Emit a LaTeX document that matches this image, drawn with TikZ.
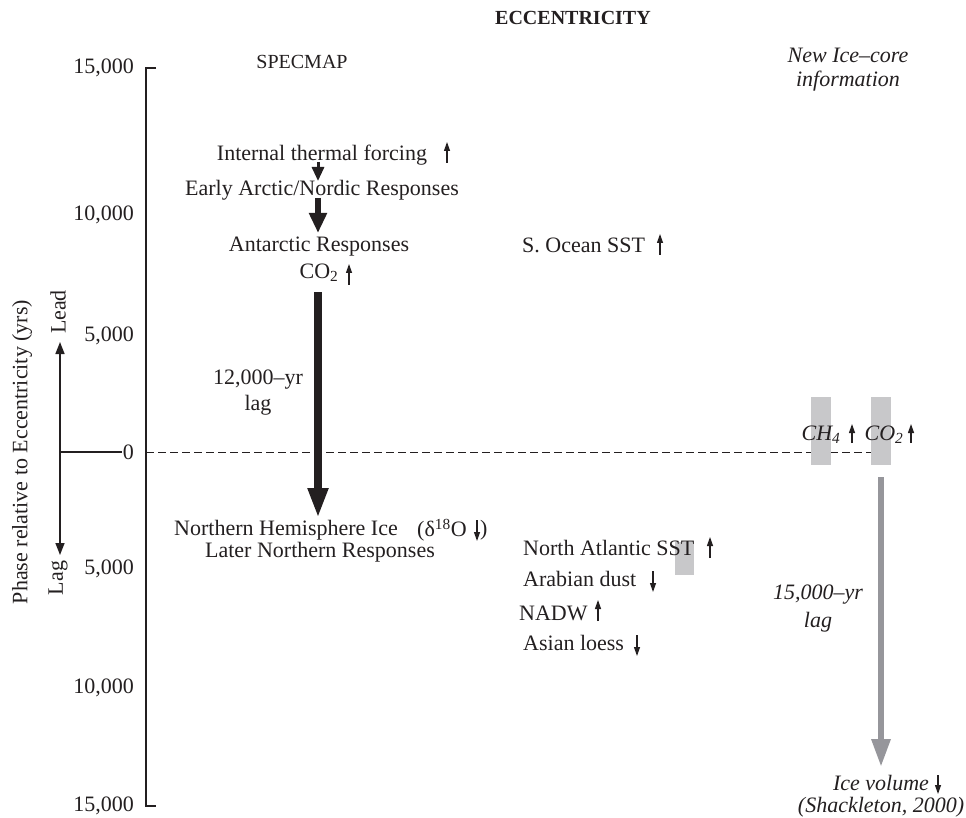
\documentclass[tikz,border=0pt]{standalone}
\usepackage{fontspec}
\setmainfont{Liberation Serif}
\usetikzlibrary{arrows.meta}
\definecolor{ink}{RGB}{35,31,32}
\definecolor{boxgray}{RGB}{200,200,202}
\definecolor{arrgray}{RGB}{150,150,155}
\begin{document}
\begin{tikzpicture}[x=1pt,y=-1pt,
  every node/.style={font=\fontsize{22}{26}\selectfont, inner sep=0pt, text=ink},
  ttl/.style={font=\fontsize{20}{24}\selectfont},
  tlab/.style={anchor=east},
  upar/.style={draw=ink, line width=1.2pt, -{Triangle[width=6pt,length=9pt]}},
  bigarr/.style={draw=ink, line width=8pt, -{Triangle[width=19pt,length=30pt]}},
  midarr/.style={draw=ink, line width=6pt, -{Triangle[width=17pt,length=20pt]}},
  smlarr/.style={draw=ink, line width=3pt, -{Triangle[width=12pt,length=14pt]}},
  grayarr/.style={draw=arrgray, line width=6pt, -{Triangle[width=18pt,length=28pt]}},
  ]
\useasboundingbox (0,0) rectangle (966,818);

% titles
\node[ttl, font=\fontsize{20}{24}\selectfont\bfseries] (ecc) at (573,18) {ECCENTRICITY};
\node[ttl] (spec) at (302,62) {SPECMAP};
\node[font=\fontsize{22}{26}\selectfont\itshape] (nic1) at (848,55) {New Ice–core};
\node[font=\fontsize{22}{26}\selectfont\itshape] (nic2) at (848,81) {information};

% axis
\coordinate (axtop) at (146,68);
\coordinate (axbot) at (146,806);
\draw[ink, line width=1.2pt] ([xshift=10pt]axtop) -- (axtop) -- (axbot) -- ([xshift=10pt]axbot);
\node[tlab] (l15a) at (134,68) {15,000};
\node[tlab] (l10a) at (134,215) {10,000};
\node[tlab] (l5a) at (134,336) {5,000};
\node[tlab] (l0) at (134,452) {0};
\node[tlab] (l5b) at (134,569) {5,000};
\node[tlab] (l10b) at (134,688) {10,000};
\node[tlab] (l15b) at (134,806) {15,000};

% dashed zero line
\coordinate (d0) at (146,452);
\coordinate (d1) at (871,452);
\draw[ink, line width=0.8pt, dash pattern=on 8pt off 4pt] (d0) -- (d1);

% lead / lag
\node[rotate=90] (ylab) at (22,452) {Phase relative to Eccentricity (yrs)};
\coordinate (ll0) at (60,452);
\coordinate (ll1) at (122,452);
\coordinate (lead) at (60,342);
\coordinate (lag) at (60,555);
\draw[ink, line width=1.6pt, {Triangle[width=9pt,length=12pt]}-{Triangle[width=9pt,length=12pt]}] (lead) -- (lag);
\draw[ink, line width=1.4pt] (ll0) -- (ll1);
\node[rotate=90] (leadt) at (58,312) {Lead};
\node[rotate=90] (lagt) at (58,578) {Lag};

% SPECMAP column
\node (itf) at (322,155) {Internal thermal forcing};
\draw[upar] (447,163) -- (447,142);
\node (ear) at (322,190) {Early Arctic/Nordic Responses};
\coordinate (s1a) at (318,162);
\coordinate (s1b) at (318,181);
\draw[smlarr] (s1a) -- (s1b);
\coordinate (s2a) at (318,198);
\coordinate (s2b) at (318,233);
\draw[midarr] (s2a) -- (s2b);
\node (ant) at (319,247) {Antarctic Responses};
\node (co2a) at (319,273) {CO\textsubscript{2}};
\draw[upar] (349,285) -- (349,264);
\coordinate (b1a) at (318,292);
\coordinate (b1b) at (318,518);
\draw[bigarr] (b1a) -- (b1b);
\node (lag12a) at (258,380) {12,000–yr};
\node (lag12b) at (258,405) {lag};
\node (nhi) at (286,530) {Northern Hemisphere Ice};
\node[anchor=west] (d18) at (417,530) {(δ\textsuperscript{18}O};
\draw[upar, -{Triangle[width=6pt,length=9pt]}] (477,520) -- (477,541);
\node[anchor=west] (d18c) at (480,530) {)};
\node (lnr) at (320,552) {Later Northern Responses};

% middle column
\node[anchor=west] (sos) at (522,245) {S. Ocean SST};
\draw[upar] (660,255) -- (660,234);
\fill[boxgray] (675,542) rectangle (694,575);
\node[anchor=west] (nas) at (523,548) {North Atlantic SST};
\draw[upar] (710,558) -- (710,537);
\node[anchor=west] (ard) at (523,579) {Arabian dust};
\draw[upar] (653,571) -- (653,592);
\node[anchor=west] (nadw) at (519,613) {NADW};
\draw[upar] (598,621) -- (598,600);
\node[anchor=west] (asl) at (523,643) {Asian loess};
\draw[upar] (637,635) -- (637,656);

% ice-core column
\fill[boxgray] (811,397) rectangle (831,465);
\fill[boxgray] (871,397) rectangle (891,465);
\node[font=\fontsize{22}{26}\selectfont\itshape] (ch4) at (821,435) {CH\textsubscript{4}};
\draw[upar] (852,443) -- (852,424);
\node[font=\fontsize{22}{26}\selectfont\itshape] (co2b) at (884,435) {CO\textsubscript{2}};
\draw[upar] (911,443) -- (911,424);
\coordinate (g1a) at (881,477);
\coordinate (g1b) at (881,767);
\draw[grayarr] (g1a) -- (g1b);
\node[font=\fontsize{22}{26}\selectfont\itshape] (lag15a) at (818,595) {15,000–yr};
\node[font=\fontsize{22}{26}\selectfont\itshape] (lag15b) at (818,622) {lag};
\node[font=\fontsize{22}{26}\selectfont\itshape] (icev) at (881,783) {Ice volume};
\draw[upar] (938,775) -- (938,794);
\node[font=\fontsize{22}{26}\selectfont\itshape] (shack) at (881,807) {(Shackleton, 2000)};
\end{tikzpicture}
\end{document}
